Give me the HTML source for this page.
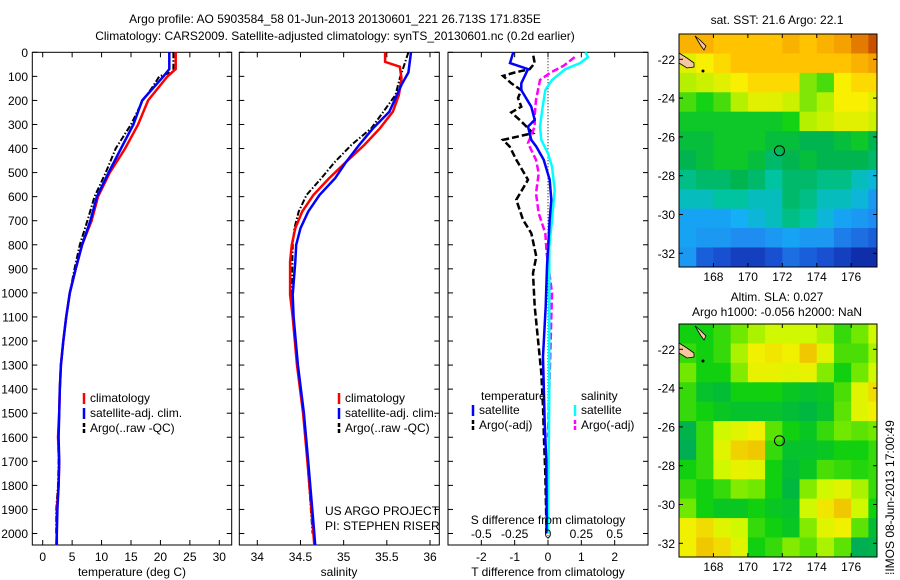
<!DOCTYPE html>
<html><head><meta charset="utf-8"><style>
html,body{margin:0;padding:0;background:#fff;}
svg{display:block;font-family:"Liberation Sans",Arial,sans-serif;}
text{fill:#000;font-size:12px;}
</style></head><body>
<svg id="fig" width="900" height="580" xmlns="http://www.w3.org/2000/svg">
<text x="335" y="23" text-anchor="middle">Argo profile: AO 5903584_58 01-Jun-2013 20130601_221 26.713S 171.835E</text>
<text x="335" y="40" text-anchor="middle">Climatology: CARS2009. Satellite-adjusted climatology: synTS_20130601.nc (0.2d earlier)</text>
<g id="p1"></g>
<g id="p2"></g>
<g id="p3"></g>
<g id="m1"></g>
<g id="m2"></g>
<text x="777" y="24" text-anchor="middle">sat. SST: 21.6 Argo: 22.1</text>
<text x="777" y="301" text-anchor="middle">Altim. SLA: 0.027</text>
<text x="777" y="316" text-anchor="middle">Argo h1000: -0.056 h2000: NaN</text>
<text transform="translate(894,575) rotate(-90)">⁞IMOS 08-Jun-2013 17:00:49</text>
<text x="325" y="515">US ARGO PROJECT</text>
<text x="325" y="530">PI: STEPHEN RISER</text>
</svg>
<script>
// ---- profile data ----
const depthT = [0,70,100,200,300,400,500,600,700,800,900,1000,1100,1200,1300,1400,1500,1600,1700,1800,1900,2000,2050];
const tempClim = [22.6,22.6,21.2,17.9,16.2,14.0,11.4,9.4,8.3,6.7,5.6,4.6,4.0,3.5,3.1,2.9,2.8,2.6,2.8,2.7,2.4,2.4,2.3];
const tempSat  = [21.5,21.5,20.5,16.9,15.4,13.3,11.2,9.2,8.1,6.7,5.6,4.6,4.0,3.5,3.1,2.9,2.8,2.7,2.8,2.7,2.5,2.4,2.4];
const depthArgo = [0,80,100,150,200,300,400,500,600,700,800,900,1000,1100,1200,1300,1400,1500,1600,1700,1800,1900,2000];
const tempArgo = [22.2,22.2,19.8,18.5,17.0,15.0,12.4,10.7,8.8,7.6,6.3,5.4,4.6,4.0,3.5,3.1,2.9,2.8,2.6,2.7,2.6,2.3,2.3];
const depthSC = [0,40,60,108,177,247,316,385,455,524,593,662,731,800,870,1008,1100,1300,1500,1700,2000,2050];
const salClim = [35.48,35.48,35.65,35.67,35.64,35.57,35.42,35.24,35.03,34.83,34.65,34.52,34.44,34.40,34.38,34.38,34.41,34.46,34.53,34.58,34.65,34.66];
const depthSS = [0,84,135,247,316,385,455,524,593,662,731,800,870,1008,1100,1300,1500,1700,2000,2050];
const salSat  = [35.78,35.75,35.67,35.53,35.34,35.18,35.03,34.90,34.72,34.59,34.50,34.45,34.44,34.41,34.42,34.47,34.54,34.59,34.66,34.67];
const depthSA = [0,108,177,247,316,385,455,524,593,662,731,800,1000,1100,1300,1500,1700,2000];
const salArgo = [35.75,35.65,35.60,35.46,35.32,35.09,34.90,34.74,34.57,34.48,34.43,34.41,34.40,34.41,34.46,34.53,34.58,34.64];
// ---- difference data ----
const depthDT = [0,45,70,129,157,226,281,309,364,392,447,530,613,696,890,1056,1264,1541,1694,1943,2000];
const dTsat = [-1.04,-1.14,-0.6,-0.8,-0.8,-0.5,-0.4,-0.6,-0.5,-0.35,-0.13,0.05,0.1,0.05,-0.03,-0.07,-0.15,-0.1,-0.05,-0.04,-0.05];
const depthDTa = [14,45,70,84,98,129,157,190,226,250,281,336,364,392,447,530,613,696,752,849,918,1056,1195,1333,1472,1610,1749,1943,2000];
const dTargo = [-0.44,-0.4,-0.55,-1.0,-1.35,-1.1,-0.8,-0.9,-0.8,-1.1,-0.85,-0.45,-1.35,-1.15,-0.95,-0.6,-0.95,-0.75,-0.5,-0.35,-0.45,-0.4,-0.3,-0.2,-0.15,-0.12,-0.08,-0.05,-0.05];
const depthDS = [0,20,45,70,115,157,226,309,364,420,475,572,696,807,1000,1400,2000];
const dSsat = [0.28,0.3,0.24,0.13,0.03,-0.02,-0.04,-0.06,-0.05,0,0.03,0.05,0.03,0.01,0.01,0.01,0.0];
const depthDSa = [20,55,84,115,198,260,309,378,447,503,586,669,752,835,1000,1195,1400,1600];
const dSargo = [0.2,0.12,0.02,-0.06,-0.09,-0.1,-0.1,-0.15,-0.09,-0.07,-0.09,-0.07,-0.02,-0.01,0.03,0.02,0.01,0.0];
const depthTicks = [0,100,200,300,400,500,600,700,800,900,1000,1100,1200,1300,1400,1500,1600,1700,1800,1900,2000];
const tTicks = [0,5,10,15,20,25,30];
const sTicks = [34,34.5,35,35.5,36];
const dTTicks = [-2,-1,0,1,2];
const dSTicks = [-0.5,-0.25,0,0.25,0.5];
const dSTickLabels = ['-0.5','-0.25','0','0.25','0.5'];
// ---- maps ----
const lonTicks = [168,170,172,174,176];
const latTicks = [-22,-24,-26,-28,-30,-32];
const sstGrid = [
[23.0,23.0,22.9,22.9,22.9,22.9,23.0,22.9,23.0,23.1,23.3,23.5],
[22.6,22.7,22.8,22.9,22.9,22.9,22.9,22.9,22.9,22.9,23.0,23.1],
[22.4,22.5,22.6,22.7,22.8,22.8,22.8,22.3,22.2,22.7,22.8,22.8],
[22.2,22.1,22.2,22.4,22.6,22.6,22.5,22.3,22.4,22.7,22.7,22.6],
[22.0,22.0,22.0,22.0,22.0,22.0,22.1,22.4,22.5,22.6,22.6,22.5],
[21.9,21.9,22.0,22.0,22.0,21.9,21.9,21.8,21.8,21.9,22.0,21.8],
[21.8,21.9,22.0,22.0,21.9,21.7,21.8,21.9,21.8,21.8,21.8,21.7],
[21.6,21.7,21.7,21.8,21.7,21.5,21.7,21.7,21.6,21.6,21.4,21.3],
[21.4,21.4,21.5,21.5,21.4,21.4,21.7,21.6,21.4,21.4,21.3,21.0],
[21.1,21.1,21.1,21.2,21.3,21.4,21.6,21.5,21.3,21.1,21.0,20.9],
[21.1,21.0,21.0,20.9,20.9,21.0,21.1,21.0,21.0,20.8,20.7,20.6],
[21.0,20.6,20.5,20.4,20.4,20.5,20.7,20.6,20.5,20.4,20.3,20.3],
[20.6,20.4,20.3,20.3,20.3,20.4,20.5,20.4,20.3,20.3,20.2,20.2]];
const slaGrid = [
[0.0,0.0,0.02,0.05,0.08,0.10,0.10,0.10,0.08,0.02,0.05,0.10],
[0.02,0.0,0.02,0.08,0.14,0.15,0.14,0.18,0.12,0.03,0.03,0.08],
[0.05,0.0,0.0,0.06,0.13,0.13,0.12,0.13,0.06,0.0,0.05,0.10],
[0.02,-0.03,-0.04,0.0,0.0,0.0,-0.02,-0.03,-0.02,0.03,0.12,0.16],
[0.02,0.0,-0.02,-0.03,-0.03,-0.03,-0.04,-0.05,-0.03,0.04,0.12,0.14],
[-0.06,0.02,0.10,0.12,0.14,0.04,0.0,-0.02,0.02,0.05,0.04,0.05],
[-0.07,0.02,0.12,0.17,0.18,0.02,-0.03,-0.03,-0.02,0.0,0.0,0.02],
[0.0,0.02,0.10,0.13,0.12,0.0,-0.04,-0.02,0.03,0.02,0.01,0.02],
[0.02,0.0,0.02,0.06,0.05,0.0,-0.05,0.06,0.10,0.12,0.08,0.02],
[0.05,0.0,-0.02,-0.02,0.0,-0.02,-0.03,0.10,0.15,0.18,0.10,0.0],
[0.14,0.16,0.12,0.10,0.02,0.0,-0.02,0.06,0.12,0.14,0.04,-0.04],
[0.14,0.18,0.16,0.12,0.0,0.02,0.06,0.04,0.08,0.04,-0.07,-0.06],
[0.10,0.14,0.12,0.08,0.0,0.0,0.02,0.02,0.04,0.0,-0.08,-0.06]];
const argoLon = [171.835];
const argoLat = [-26.713];

const NS='http://www.w3.org/2000/svg';
function mk(parent,tag,attrs,text){const e=document.createElementNS(NS,tag);for(const k in attrs)e.setAttribute(k,attrs[k]);if(text!==undefined)e.textContent=text;parent.appendChild(e);return e;}
function lin(d0,d1,r0,r1){return v=>r0+(v-d0)*(r1-r0)/(d1-d0);}
const Y0=52.3,Y1=545;
const yD=lin(0,2000,52.3,533.5);

function panel(g,x0,x1,xs,xt,xlabels,name){
  const box=mk(g,'rect',{x:x0,y:Y0,width:x1-x0,height:Y1-Y0,fill:'none',stroke:'#000','stroke-width':1});
  
  
  depthTicks.forEach(d=>{const y=yD(d);
    mk(g,'line',{x1:x0,x2:x0+5,y1:y,y2:y,stroke:'#000'});
    mk(g,'line',{x1:x1,x2:x1-5,y1:y,y2:y,stroke:'#000'});});
  xt.forEach((v,i)=>{const x=xs(v);
    mk(g,'line',{x1:x,x2:x,y1:Y0,y2:Y0+5,stroke:'#000'});
    mk(g,'line',{x1:x,x2:x,y1:Y1,y2:Y1-5,stroke:'#000'});
    const t=mk(g,'text',{x:x,y:561,'text-anchor':'middle'},xlabels[i]);
    
    });
}
function line(g,xs,vals,deps,color,w,dash,name){
  const pts=vals.map((v,i)=>xs(v).toFixed(1)+','+yD(deps[i]).toFixed(1)).join(' ');
  const p=mk(g,'polyline',{points:pts,fill:'none',stroke:color,'stroke-width':w,'stroke-dasharray':dash||'none'});
  
  
}
function legend(g,x,y,items){
  items.forEach((it,i)=>{const yy=y+i*15;
    mk(g,'line',{x1:x,x2:x,y1:yy-9,y2:yy+2,stroke:it[1],'stroke-width':2.5,'stroke-dasharray':it[2]||'none'});
    const t=mk(g,'text',{x:x+6,y:yy},it[0]);
    
    });
}
// panel 1
const p1=document.getElementById('p1');
const xT=lin(0,30,42.7,219.3);
panel(p1,32.3,231.7,xT,tTicks,tTicks.map(String),'temperature');
depthTicks.forEach(d=>{const t=mk(p1,'text',{x:28,y:yD(d)+4.5,'text-anchor':'end'},String(d));
  
  });
line(p1,xT,tempArgo,depthArgo,'#000',2,'6,2,1.5,2','temp-argo-line');
line(p1,xT,tempClim,depthT,'#f00',2.5,null,'temp-climatology-line');
line(p1,xT,tempSat,depthT,'#00f',2.5,null,'temp-satellite-line');
const tl=mk(p1,'text',{x:132,y:576,'text-anchor':'middle'},'temperature (deg C)');


legend(p1,84,402,[['climatology','#f00'],['satellite-adj. clim.','#00f'],['Argo(..raw -QC)','#000','4,2']]);
// panel 2
const p2=document.getElementById('p2');
const xS=lin(34,36,257.3,430);
panel(p2,239.3,439.3,xS,sTicks,['34','34.5','35','35.5','36'],'salinity');
line(p2,xS,salArgo,depthSA,'#000',2,'6,2,1.5,2','sal-argo-line');
line(p2,xS,salClim,depthSC,'#f00',2.5,null,'sal-climatology-line');
line(p2,xS,salSat,depthSS,'#00f',2.5,null,'sal-satellite-line');
const sl=mk(p2,'text',{x:339,y:576,'text-anchor':'middle'},'salinity');


legend(p2,339,402,[['climatology','#f00'],['satellite-adj. clim.','#00f'],['Argo(..raw -QC)','#000','4,2']]);
// panel 3
const p3=document.getElementById('p3');
const xDT=lin(-3,3,448,648);
const xDS=lin(-0.75,0.75,448,648);
panel(p3,448,648,xDT,dTTicks,dTTicks.map(String),'difference');
mk(p3,'line',{x1:xDT(0),x2:xDT(0),y1:Y0,y2:Y1,stroke:'#000','stroke-dasharray':'1,2'});
line(p3,xDT,dTargo,depthDTa,'#000',2.5,'7,3','temp-diff-argo-line');
line(p3,xDS,dSargo,depthDSa,'#f0f',2.5,'7,3','sal-diff-argo-line');
line(p3,xDS,dSsat,depthDS,'#0ff',2.5,null,'sal-diff-satellite-line');
line(p3,xDT,dTsat,depthDT,'#00f',2.5,null,'temp-diff-satellite-line');
dSTicks.forEach((v,i)=>{const t=mk(p3,'text',{x:xDS(v),y:538,'text-anchor':'middle'},dSTickLabels[i]);
  
  });
const sdl=mk(p3,'text',{x:548,y:524,'text-anchor':'middle'},'S difference from climatology');


const tdl=mk(p3,'text',{x:548,y:576,'text-anchor':'middle'},'T difference from climatology');


mk(p3,'text',{x:481,y:400},'temperature');
mk(p3,'text',{x:581,y:400},'salinity');
legend(p3,473,414,[['satellite','#00f'],['Argo(-adj)','#000','4,2']]);
legend(p3,575,414,[['satellite','#0ff'],['Argo(-adj)','#f0f','4,2']]);

// maps
function cmap(stops,v){
  if(v<=stops[0][0])return 'rgb('+stops[0][1].join(',')+')';
  for(let i=1;i<stops.length;i++){if(v<=stops[i][0]){const a=stops[i-1],b=stops[i],f=(v-a[0])/(b[0]-a[0]);
    return 'rgb('+a[1].map((c,k)=>Math.round(c+(b[1][k]-c)*f)).join(',')+')';}}
  return 'rgb('+stops[stops.length-1][1].join(',')+')';
}
const sstStops=[[20.2,[10,30,150]],[20.5,[25,80,210]],[20.9,[30,140,240]],[21.2,[20,175,245]],[21.5,[0,195,160]],[21.8,[0,180,80]],[22.1,[20,210,20]],[22.4,[180,240,0]],[22.7,[248,240,0]],[22.9,[255,195,0]],[23.2,[240,145,0]],[23.5,[200,80,0]]];
const slaStops=[[-0.1,[0,160,112]],[-0.05,[0,184,64]],[0,[16,208,16]],[0.05,[112,232,0]],[0.1,[208,248,0]],[0.14,[240,240,0]],[0.18,[240,200,0]],[0.22,[240,160,0]]];
function mapPanel(g,top,grid,stops,name){
  const L=679,R=877,T=top,B=top+233;
  const xL=lin(166,177.5,L,R), yL=lin(-22,-32,T+25.3,T+219.3);
  const cw=(R-L)/11.5, latTop=-20.7;
  grid.forEach((row,r)=>row.forEach((v,c)=>{
    const x=xL(166+c), y=yL(latTop-r);
    const w=(c==11)?(R-x):cw+0.5, h=Math.min(19.9,B-y);
    if(h<=0)return;
    const cell=mk(g,'rect',{x:x,y:y,width:w,height:h,fill:cmap(stops,v)});
    
    
  }));
  mk(g,'path',{d:`M${L} ${T+19} L${L+8} ${T+24} L${L+15} ${T+29} L${L+15} ${T+33} L${L+8} ${T+34} L${L} ${T+29} Z`,fill:'#f5c7a0',stroke:'#000','stroke-width':0.8});
  mk(g,'path',{d:`M${L+16} ${T+2} L${L+21} ${T+6} L${L+27} ${T+12} L${L+25} ${T+16} L${L+22} ${T+12} Z`,fill:'#f5c7a0',stroke:'#000','stroke-width':0.8});
  mk(g,'circle',{cx:L+24,cy:T+37,r:1.5,fill:'#000'});
  const fr=mk(g,'rect',{x:L,y:T,width:R-L,height:B-T,fill:'none',stroke:'#000'});
  
  
  lonTicks.forEach(v=>{const x=xL(v);
    mk(g,'line',{x1:x,x2:x,y1:T,y2:T+4,stroke:'#000'});
    mk(g,'line',{x1:x,x2:x,y1:B,y2:B-4,stroke:'#000'});
    const t=mk(g,'text',{x:x,y:B+14,'text-anchor':'middle'},String(v));
    
    });
  latTicks.forEach(v=>{const y=yL(v);
    mk(g,'line',{x1:L,x2:L+4,y1:y,y2:y,stroke:'#000'});
    mk(g,'line',{x1:R,x2:R-4,y1:y,y2:y,stroke:'#000'});
    const t=mk(g,'text',{x:L-4,y:y+4.5,'text-anchor':'end'},String(v));
    
    });
  argoLon.forEach((lo,i)=>{const c=mk(g,'circle',{cx:xL(lo),cy:yL(argoLat[i]),r:5,fill:'none',stroke:'#000','stroke-width':1});
    
    });
}
mapPanel(document.getElementById('m1'),34,sstGrid,sstStops,'sst-map');
mapPanel(document.getElementById('m2'),324,slaGrid,slaStops,'sla-map');
</script>
</body></html>
